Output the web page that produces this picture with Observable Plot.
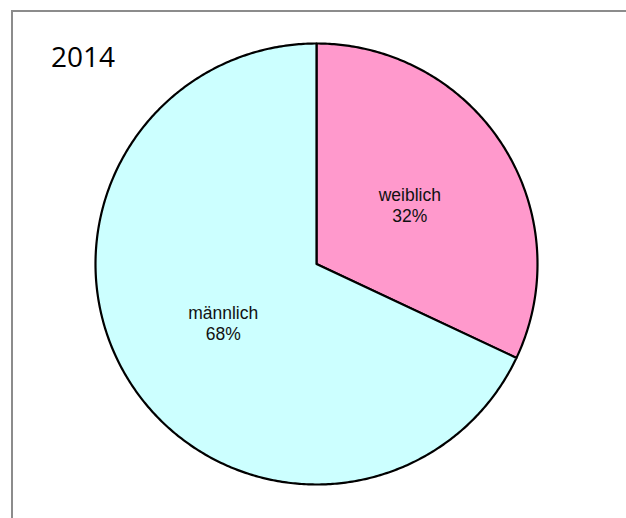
<!DOCTYPE html>
<html>
<head>
<meta charset="utf-8">
<script src="https://cdn.jsdelivr.net/npm/d3@7"></script>
<script src="https://cdn.jsdelivr.net/npm/@observablehq/plot@0.6"></script>
<style>
  html, body { margin: 0; padding: 0; background: #fff; }
  #wrap { position: relative; width: 626px; height: 518px; overflow: hidden; }
  #frame { position: absolute; left: 11px; top: 10px; width: 700px; height: 600px;
           border-top: 2px solid #8c8c8c; border-left: 2px solid #8c8c8c; box-sizing: border-box; }
  #title { position: absolute; left: 51px; top: 42px; font-family: "Open Sans", sans-serif;
           font-size: 28px; line-height: 1; color: #000; }
  #chart { position: absolute; left: 0; top: 0; }
</style>
</head>
<body>
<div id="wrap">
  <div id="frame"></div>
  <div id="chart"></div>
  <div id="title">2014</div>
</div>
<script>
const categories = ["weiblich", "männlich"];
const values = [32, 68];
const colors = ["#FF99CC", "#CCFFFF"];

const pie = d3.pie().sort(null).value(d => d.value);
const arcs = pie(categories.map((c, i) => ({label: c, value: values[i], color: colors[i]})));

const slices = arcs.map(a => {
  const pts = [{x: 0, y: 0}];
  const n = Math.max(2, Math.ceil((a.endAngle - a.startAngle) / 0.01));
  for (let k = 0; k <= n; k++) {
    const t = a.startAngle + (a.endAngle - a.startAngle) * k / n;
    pts.push({x: Math.sin(t), y: Math.cos(t)});
  }
  pts.push({x: 0, y: 0});
  return {label: a.data.label, color: a.data.color, pts};
});

const labels = arcs.map(a => {
  const m = (a.startAngle + a.endAngle) / 2;
  const r = 0.5;
  return {x: r * Math.sin(m), y: r * Math.cos(m), text: a.data.label + "\n" + a.data.value + "%"};
});

const chart = Plot.plot({
  width: 626,
  height: 518,
  marginLeft: 95,
  marginRight: 89,
  marginTop: 43,
  marginBottom: 34,
  x: {domain: [-1, 1], axis: null},
  y: {domain: [-1, 1], axis: null},
  style: {fontFamily: "Arial, 'Liberation Sans', sans-serif", background: "transparent", overflow: "visible"},
  marks: [
    ...slices.map(s => Plot.line(s.pts, {x: "x", y: "y", fill: s.color, stroke: "#000", strokeWidth: 2.2, strokeLinejoin: "round", curve: "linear"})),
    Plot.text(labels, {x: "x", y: "y", text: "text", fontSize: 17.5, lineHeight: 1.2, fill: "#111"})
  ]
});
document.getElementById("chart").appendChild(chart);
</script>
</body>
</html>
